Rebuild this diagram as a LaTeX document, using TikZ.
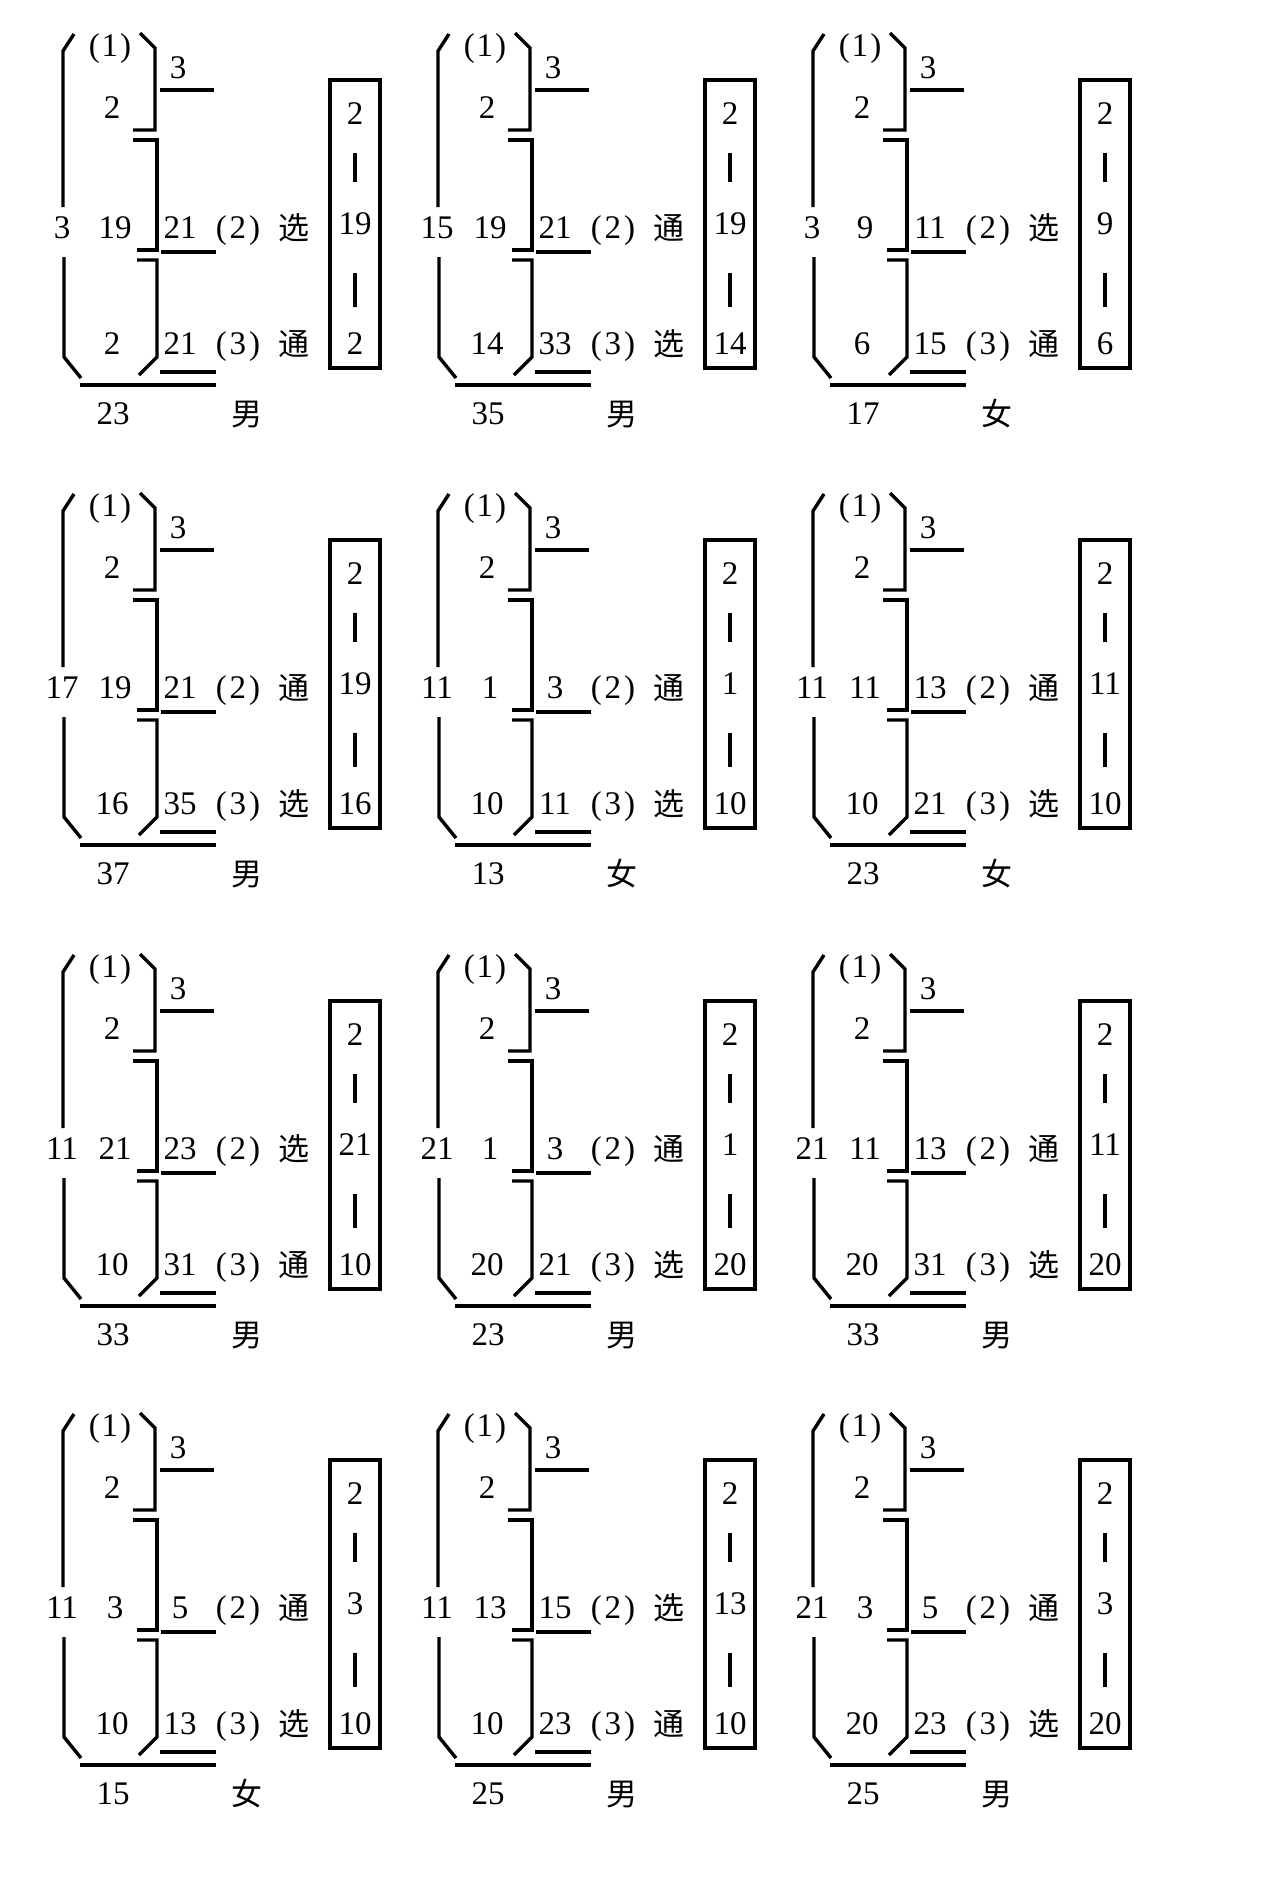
\documentclass[tikz,border=0pt]{standalone}
\usepackage{fontspec}
\setmainfont{Liberation Serif}
\newfontfamily\numfont{Liberation Serif}
\newfontfamily\cjk{Noto Sans CJK SC}
\tikzset{
  ln/.style={line width=3.4pt, line cap=butt, line join=miter},
  boxln/.style={line width=4pt},
  num/.style={inner sep=0pt, font=\fontsize{33}{33}\numfont, text height=22.5pt, text depth=0pt, anchor=center},
  han/.style={inner sep=0pt, font=\fontsize{31}{31}\cjk, text height=24pt, text depth=0pt, anchor=center},
}
% #1 left total, #2 middle, #3 bottom, #4 sum(2), #5 word(2), #6 sum(3), #7 word(3), #8 total, #9 sex
\newcommand\cellfig[9]{%
  % left bracket
  \draw[ln] (74,34) -- (63,51) -- (63,207);
  \draw[ln] (64,257) -- (64,357) -- (81,378);
  % right brackets
  \draw[ln] (140,33) -- (155,48) -- (155,130) -- (133,130);
  \draw[ln] (133,140) -- (157,140) -- (157,250) -- (137,250);
  \draw[ln] (137,260) -- (157,260) -- (157,357) -- (139,375);
  % rules
  \draw[ln] (160,90) -- (214,90);
  \draw[ln] (161,252) -- (216,252);
  \draw[ln] (160,372) -- (216,372);
  \draw[ln] (80,385) -- (216,385);
  % box
  \draw[boxln] (330,80) rectangle (380,368);
  \draw[boxln] (355,153) -- (355,182);
  \draw[boxln] (355,273) -- (355,307);
  % texts
  \node[num] (p1) at (110,45) {(\kern2pt 1\kern2pt)};
  \node[num] (a) at (112,107) {2};
  \node[num] (b) at (178,67) {3};
  \node[num] (lt) at (62,227) {#1};
  \node[num] (md) at (115,227) {#2};
  \node[num] (r2) at (180,227) {#4};
  \node[num] (p2) at (238,227) {(\kern3pt 2\kern3pt)};
  \node[han] (w2) at (294,227) {#5};
  \node[num] (bt) at (112,343) {#3};
  \node[num] (r3) at (180,343) {#6};
  \node[num] (p3) at (238,343) {(\kern3pt 3\kern3pt)};
  \node[han] (w3) at (294,343) {#7};
  \node[num] (tot) at (113,413) {#8};
  \node[han] (sx) at (247,413) {#9};
  \node[num] (x1) at (355,113) {2};
  \node[num] (x2) at (355,223) {#2};
  \node[num] (x3) at (355,343) {#3};
}
\begin{document}
\begin{tikzpicture}[x=1pt,y=-1pt]
\fill[white] (0,0) rectangle (1267,1880);
\useasboundingbox (0,0) rectangle (1267,1880);
% row 1
\begin{scope}[shift={(0,0)}, name prefix=r1c1-]
  \cellfig{3}{19}{2}{21}{选}{21}{通}{23}{男}
\end{scope}
\begin{scope}[shift={(375,0)}, name prefix=r1c2-]
  \cellfig{15}{19}{14}{21}{通}{33}{选}{35}{男}
\end{scope}
\begin{scope}[shift={(750,0)}, name prefix=r1c3-]
  \cellfig{3}{9}{6}{11}{选}{15}{通}{17}{女}
\end{scope}
% row 2
\begin{scope}[shift={(0,460)}, name prefix=r2c1-]
  \cellfig{17}{19}{16}{21}{通}{35}{选}{37}{男}
\end{scope}
\begin{scope}[shift={(375,460)}, name prefix=r2c2-]
  \cellfig{11}{1}{10}{3}{通}{11}{选}{13}{女}
\end{scope}
\begin{scope}[shift={(750,460)}, name prefix=r2c3-]
  \cellfig{11}{11}{10}{13}{通}{21}{选}{23}{女}
\end{scope}
% row 3
\begin{scope}[shift={(0,921)}, name prefix=r3c1-]
  \cellfig{11}{21}{10}{23}{选}{31}{通}{33}{男}
\end{scope}
\begin{scope}[shift={(375,921)}, name prefix=r3c2-]
  \cellfig{21}{1}{20}{3}{通}{21}{选}{23}{男}
\end{scope}
\begin{scope}[shift={(750,921)}, name prefix=r3c3-]
  \cellfig{21}{11}{20}{13}{通}{31}{选}{33}{男}
\end{scope}
% row 4
\begin{scope}[shift={(0,1380)}, name prefix=r4c1-]
  \cellfig{11}{3}{10}{5}{通}{13}{选}{15}{女}
\end{scope}
\begin{scope}[shift={(375,1380)}, name prefix=r4c2-]
  \cellfig{11}{13}{10}{15}{选}{23}{通}{25}{男}
\end{scope}
\begin{scope}[shift={(750,1380)}, name prefix=r4c3-]
  \cellfig{21}{3}{20}{5}{通}{23}{选}{25}{男}
\end{scope}
\end{tikzpicture}
\end{document}
